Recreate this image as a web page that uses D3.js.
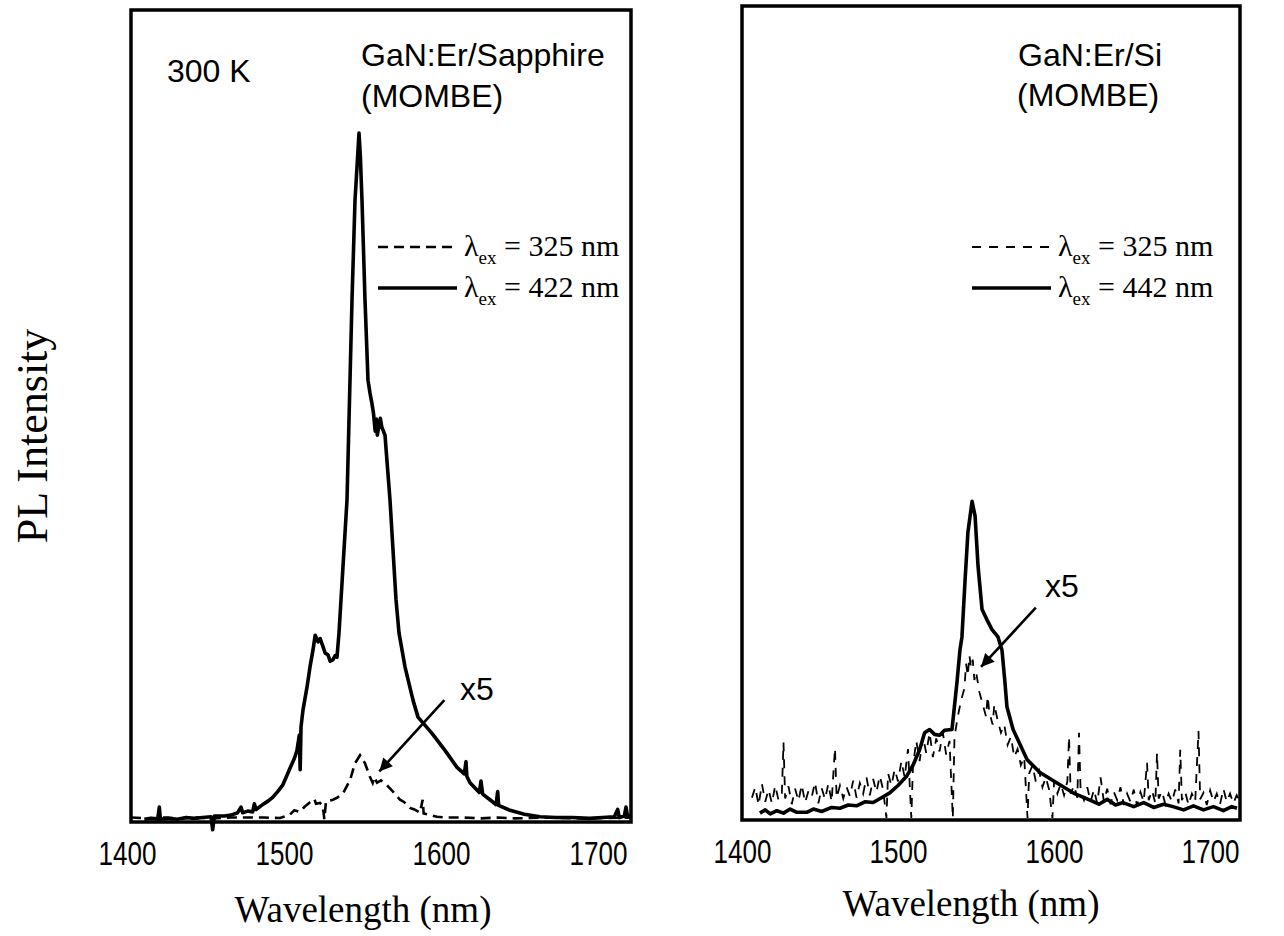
<!DOCTYPE html>
<html>
<head>
<meta charset="utf-8">
<script src="https://cdn.jsdelivr.net/npm/d3@7"></script>
<style>
  body { margin: 0; background: #fff; }
  svg { display: block; }
</style>
</head>
<body>
<svg id="chart" width="1284" height="936"></svg>
<script>
// tick labels shared by both panels
const wavelengthTicks = [1400, 1500, 1600, 1700];

// GaN:Er/Sapphire, excitation 422 nm (solid) - [nm, PL intensity a.u.]
const sapphireEx422 = [
  [1408,0.1],[1412,0.2],[1416,0.1],[1417,1.6],[1417.6,0.1],[1422,0.2],[1428,0.1],[1433,0.3],
  [1438,0.2],[1443,0.3],[1448,0.4],[1449,-1.2],[1450,0.5],[1456,0.5],[1460,0.6],[1464,0.9],
  [1466,1.6],[1467,0.9],[1470,1.1],[1473,1.0],[1474,2.0],[1475,1.3],[1479,1.9],[1482,2.3],
  [1485,2.8],[1488,3.5],[1491,4.3],[1495,6.2],[1498,7.6],[1499.6,8.6],[1501,10.5],[1501.5,6.2],
  [1502,11.5],[1503.2,13.6],[1505.6,16.4],[1507.4,18.9],[1509.2,21.0],[1510.5,22.8],[1512.2,22.0],
  [1513.5,22.4],[1515.2,21.4],[1516.5,20.6],[1518.2,20.4],[1519.5,19.6],[1521.2,19.8],[1522.5,20.3],
  [1523.6,20.1],[1524.8,23.1],[1526,27.2],[1529.6,39.5],[1532.6,64.2],[1534.4,76.5],[1536,82],
  [1536.8,84.8],[1537.6,82],[1538.6,76.5],[1540.4,64.2],[1542.2,54.3],[1543.4,52.7],[1544.5,51.5],
  [1545.5,50.2],[1546.5,48.0],[1547.2,49.5],[1547.8,47.5],[1548.8,48.8],[1549.6,49.6],[1550.5,48.5],
  [1552.4,47.5],[1555.4,39.5],[1559,27.2],[1560.8,23.1],[1564.4,18.9],[1569.2,14.8],[1572.2,12.7],
  [1580.6,10.7],[1588.4,8.6],[1595.6,6.5],[1600,5.7],[1601,7.2],[1601.5,5.4],[1603.4,4.6],[1609,3.4],
  [1610,4.8],[1611,3.2],[1615.4,2.5],[1619,1.9],[1620,3.5],[1620.6,1.8],[1627.4,1.2],[1636,0.7],
  [1645.4,0.4],[1655,0.3],[1665,0.3],[1675,0.2],[1683,0.3],[1690,0.4],[1692,1.3],[1693,0.3],
  [1696,0.5],[1697,1.6],[1698,0.4],[1700,0.6]
];

// GaN:Er/Sapphire, excitation 325 nm, x5 (dashed)
const sapphireEx325 = [
  [1400,0.3],[1410,0.2],[1420,0.3],[1430,0.2],[1440,0.3],[1450,0.2],[1460,0.3],[1470,0.3],
  [1480,0.3],[1489.4,0.25],[1495,0.6],[1498,1.2],[1501.4,1.0],[1504,1.6],[1507.4,2.2],[1510,2.6],
  [1511,2.0],[1513.4,2.1],[1515,1.8],[1516,0.1],[1517,2.3],[1521.2,2.5],[1524,2.8],[1527.2,3.3],
  [1531.4,4.9],[1534.4,7.0],[1537.4,8.0],[1540.4,7.0],[1543.4,5.3],[1545,4.6],[1546,5.3],[1547.6,4.6],
  [1550,4.9],[1553.6,4.3],[1557.2,3.5],[1561.4,2.5],[1564,2.2],[1567.4,1.5],[1570,1.3],[1573.4,0.9],
  [1575,2.5],[1575.6,0.8],[1583.6,0.4],[1590,0.3],[1600,0.3],[1610,0.2],[1620,0.3],[1630,0.2],
  [1650,0.3],[1670,0.2],[1700,0.3]
];

// GaN:Er/Si, excitation 442 nm (solid)
const siEx442 = [
  [1410.8,0.6],[1414,1.0],[1417,0.5],[1421,0.9],[1425,0.6],[1429,1.1],[1433,0.7],[1439,0.7],
  [1443,1.1],[1448,0.8],[1454,1.3],[1459,1.2],[1464,1.6],[1469,1.5],[1474,2.0],[1479,1.9],
  [1484,2.5],[1489,3.1],[1494,4.0],[1499,5.1],[1503,6.5],[1507,8.4],[1510,10.5],[1513,10.9],
  [1516,10.3],[1519,10.2],[1522,10.8],[1526.5,10.9],[1529.5,16.7],[1531.3,20.7],[1532.5,22.3],
  [1534.3,29.0],[1536.1,35.2],[1538.6,39.0],[1540.4,37.2],[1542.2,31.0],[1544.6,25.7],[1547.6,24.4],
  [1550.6,23.2],[1554.2,22.3],[1556.6,20.7],[1558.4,16.7],[1559.6,13.7],[1563.3,10.9],[1571.7,7.2],
  [1579.5,5.6],[1589.8,4.3],[1599.4,3.1],[1605,2.6],[1609.6,2.2],[1615,1.7],[1620,2.3],[1625,1.6],
  [1629.5,1.9],[1636,1.4],[1642,1.9],[1648,1.3],[1654,1.7],[1659.6,1.4],[1666,1.0],[1672,1.5],
  [1678,1.0],[1684,1.4],[1690,0.9],[1695,1.4],[1698.2,1.2]
];

// GaN:Er/Si, excitation 325 nm, x5 (dashed, noisy)
const siEx325 = [
  [1406,2.5],[1408,3.8],[1410,1.6],[1412,4.2],[1414,2.0],[1416,3.5],[1418,1.8],[1420,4.0],
  [1422,2.2],[1424,3.0],[1425,9.3],[1426,2.4],[1428,3.9],[1430,1.7],[1432,3.6],[1434,2.1],
  [1436,4.1],[1438,1.9],[1440,3.3],[1442,2.6],[1444,4.4],[1446,1.8],[1448,3.7],[1450,2.3],
  [1452,4.2],[1454,2.0],[1456,8.6],[1457,2.5],[1459,4.0],[1461,2.4],[1463,3.8],[1465,2.7],
  [1467,4.6],[1469,2.5],[1471,4.3],[1473,3.0],[1475,5.0],[1477,2.8],[1479,4.8],[1481,3.2],
  [1483,5.2],[1485,3.5],[1487,0.0],[1488,5.5],[1490,4.0],[1492,6.0],[1494,4.5],[1496,7.0],
  [1498,5.0],[1500,8.5],[1502,0.0],[1503,6.5],[1505,9.5],[1507,7.0],[1509,10.0],[1511,8.0],
  [1513,10.5],[1515,7.5],[1517,9.8],[1519,8.2],[1521,10.5],[1523,7.8],[1525,9.5],[1527,0.0],
  [1528,10.0],[1530,12.5],[1532,14.5],[1534,16.0],[1535,19.0],[1536,17.5],[1537,20.0],[1538,18.5],
  [1539,19.5],[1540,17.0],[1541,18.0],[1543,15.5],[1545,14.0],[1547,12.5],[1548,15.0],[1549,13.0],
  [1551,11.5],[1552,14.0],[1554,12.0],[1556,10.5],[1558,11.5],[1560,9.0],[1562,10.0],[1564,7.5],
  [1566,8.5],[1568,6.5],[1570,7.5],[1572,0.0],[1573,5.5],[1575,6.5],[1577,4.5],[1579,5.8],
  [1581,3.8],[1583,5.0],[1585,3.5],[1587,0.0],[1588,4.5],[1590,3.0],[1592,4.2],[1594,2.8],
  [1596,4.5],[1597,10.0],[1598,3.0],[1600,4.0],[1602,2.5],[1603,10.5],[1604,3.2],[1606,2.2],
  [1608,3.8],[1610,2.0],[1612,3.5],[1614,1.8],[1616,5.0],[1618,2.0],[1620,3.6],[1622,1.7],
  [1624,3.2],[1626,2.2],[1628,3.8],[1630,1.6],[1632,3.0],[1634,2.0],[1636,3.5],[1638,1.5],
  [1640,3.2],[1642,2.0],[1644,6.8],[1645,2.2],[1647,3.4],[1649,1.8],[1650,8.0],[1651,2.4],
  [1653,3.3],[1655,1.7],[1657,3.0],[1659,2.0],[1661,3.5],[1663,1.8],[1664,8.4],[1665,2.2],
  [1667,3.2],[1669,1.6],[1671,3.0],[1673,2.0],[1675,10.7],[1676,2.3],[1678,3.1],[1680,1.6],
  [1682,3.4],[1684,2.0],[1686,3.0],[1688,1.7],[1690,3.6],[1692,2.0],[1694,3.0],[1696,1.8],
  [1698,2.8],[1700,2.0]
];

const panels = [
  {
    box: { x0: 131, x1: 631, y0: 10, y1: 822 },
    labelRange: [127, 598],
    solid: sapphireEx422, dashed: sapphireEx325,
    dashedWidth: 2.6, dash: "10,6",
    legend: ["325", "422"], legendX: 378,
    titles: [["GaN:Er/Sapphire", 361, 66], ["(MOMBE)", 361, 107]],
    temp: ["300 K", 167, 82],
    x5: [460, 700], arrow: [[1588, 14.8], [1549, 6.0]],
    xTitle: [363, 922]
  },
  {
    box: { x0: 742, x1: 1240, y0: 6, y1: 820 },
    labelRange: [742, 1210],
    solid: siEx442, dashed: siEx325,
    dashedWidth: 1.8, dash: "9,8",
    legend: ["325", "442"], legendX: 972,
    titles: [["GaN:Er/Si", 1018, 66], ["(MOMBE)", 1017, 106]],
    temp: null,
    x5: [1045, 597], arrow: [[1577, 25.9], [1544, 18.6]],
    xTitle: [971, 916]
  }
];

const svg = d3.select("#chart");
const sans = "'Liberation Sans', Arial, sans-serif";
const serif = "'Liberation Serif', 'Times New Roman', serif";

svg.append("defs").append("marker")
  .attr("id", "arrowhead")
  .attr("viewBox", "0 0 10 10")
  .attr("refX", 10).attr("refY", 5)
  .attr("markerWidth", 6).attr("markerHeight", 5)
  .attr("markerUnits", "strokeWidth")
  .attr("orient", "auto")
  .append("path").attr("d", "M0,0 L10,5 L0,10 Z").attr("fill", "#000");

panels.forEach(p => {
  const b = p.box;
  const x = d3.scaleLinear().domain([1400, 1700]).range([b.x0, b.x1]);
  const y = d3.scaleLinear().domain([0, 100]).range([b.y1 - 2, b.y0]);
  const line = d3.line().x(d => x(d[0])).y(d => y(d[1]));

  // dashed curve (325 nm excitation)
  svg.append("path")
    .datum(p.dashed)
    .attr("d", line)
    .attr("fill", "none")
    .attr("stroke", "#000")
    .attr("stroke-width", p.dashedWidth)
    .attr("stroke-dasharray", p.dash);

  // solid curve
  svg.append("path")
    .datum(p.solid)
    .attr("d", line)
    .attr("fill", "none")
    .attr("stroke", "#000")
    .attr("stroke-width", 3.6)
    .attr("stroke-linejoin", "round");

  // frame
  svg.append("rect")
    .attr("x", b.x0).attr("y", b.y0)
    .attr("width", b.x1 - b.x0).attr("height", b.y1 - b.y0)
    .attr("fill", "none").attr("stroke", "#000").attr("stroke-width", 3.5);

  // tick labels (printed slightly off the frame in the original)
  const labelX = d3.scaleLinear().domain([1400, 1700]).range(p.labelRange);
  const axis = svg.append("g")
    .attr("transform", `translate(0,${b.y1 + 2})`)
    .call(d3.axisBottom(labelX).tickValues(wavelengthTicks).tickSize(0).tickPadding(0).tickFormat(d3.format("d")));
  axis.select(".domain").remove();
  axis.selectAll("text")
    .attr("y", 41).attr("dy", 0)
    .attr("font-family", sans).attr("font-size", 33)
    .attr("fill", "#000")
    .attr("transform", "scale(0.79,1)");

  svg.append("text")
    .attr("x", p.xTitle[0]).attr("y", p.xTitle[1])
    .attr("text-anchor", "middle")
    .attr("font-family", serif).attr("font-size", 37)
    .text("Wavelength (nm)");

  p.titles.forEach(t => {
    svg.append("text").attr("x", t[1]).attr("y", t[2])
      .attr("font-family", sans).attr("font-size", 32).text(t[0]);
  });
  if (p.temp) {
    svg.append("text").attr("x", p.temp[1]).attr("y", p.temp[2])
      .attr("font-family", sans).attr("font-size", 32).text(p.temp[0]);
  }

  // legend
  [0, 1].forEach(i => {
    const ly = 247 + i * 41;
    svg.append("line")
      .attr("x1", p.legendX).attr("x2", p.legendX + 79)
      .attr("y1", ly).attr("y2", ly)
      .attr("stroke", "#000")
      .attr("stroke-width", i === 0 ? p.dashedWidth : 3.6)
      .attr("stroke-dasharray", i === 0 ? p.dash : null);
    const t = svg.append("text")
      .attr("x", p.legendX + 86).attr("y", ly + 9)
      .attr("font-family", serif).attr("font-size", 30);
    t.append("tspan").text("\u03bb");
    t.append("tspan").attr("font-size", 19).attr("dy", 8).text("ex");
    t.append("tspan").attr("dy", -8).text(` = ${p.legend[i]} nm`);
  });

  // x5 annotation with arrow
  svg.append("text").attr("x", p.x5[0]).attr("y", p.x5[1])
    .attr("font-family", sans).attr("font-size", 32).text("x5");
  svg.append("line")
    .attr("x1", x(p.arrow[0][0])).attr("y1", y(p.arrow[0][1]))
    .attr("x2", x(p.arrow[1][0])).attr("y2", y(p.arrow[1][1]))
    .attr("stroke", "#000").attr("stroke-width", 2.6)
    .attr("marker-end", "url(#arrowhead)");
});

svg.append("text")
  .attr("transform", "translate(47,436) rotate(-90)")
  .attr("text-anchor", "middle")
  .attr("font-family", serif).attr("font-size", 44)
  .text("PL Intensity");
</script>
</body>
</html>
